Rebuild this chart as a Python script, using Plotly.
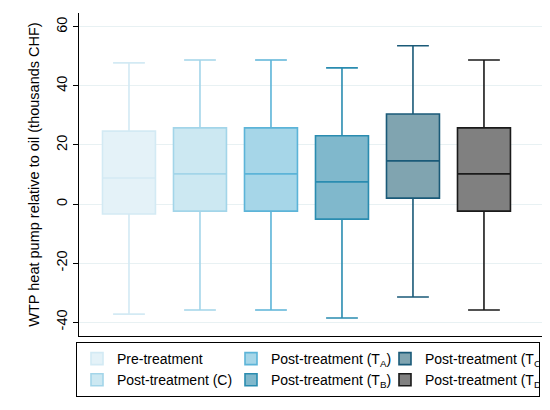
import plotly.graph_objects as go

# Grupos e estatísticas das caixas (milhares de CHF)
grupos = ["Pre-treatment", "Post-treatment (C)", "Post-treatment (T<sub>A</sub>)",
          "Post-treatment (T<sub>B</sub>)", "Post-treatment (T<sub>C</sub>)", "Post-treatment (T<sub>D</sub>)"]
limite_inf = [-37.3, -35.9, -35.9, -38.6, -31.5, -35.9]
q1 = [-3.4, -2.4, -2.4, -5.1, 2.0, -2.4]
mediana = [8.8, 10.2, 10.2, 7.5, 14.6, 10.2]
q3 = [24.7, 25.8, 25.8, 23.1, 30.5, 25.8]
limite_sup = [47.8, 48.8, 48.8, 46.1, 53.6, 48.8]
y_ticks = [-40, -20, 0, 20, 40, 60]
y_tick_labels = ["-40", "-20", "0", "20", "40", "60"]

# Cores (linha / preenchimento)
cores_linha = ["#d3eaf4", "#a3d5e9", "#5cb4d8", "#2a8cb0", "#1a5a78", "#1a1a1a"]
cores_fill = ["#e4f2f8", "#cce8f2", "#a6d6e8", "#80b8cc", "#80a4b0", "#808080"]
# ordem da legenda em colunas (3 colunas x 2 linhas)
rank_legenda = [1, 4, 2, 5, 3, 6]

# a página tem margem de 8px no body -> figura 8px menor
W, H = 542, 402

fig = go.Figure()
for i, g in enumerate(grupos):
    fig.add_trace(go.Box(
        x=[i], name=g,
        lowerfence=[limite_inf[i]], q1=[q1[i]], median=[mediana[i]],
        q3=[q3[i]], upperfence=[limite_sup[i]],
        width=0.746, whiskerwidth=0.6,
        line=dict(color=cores_linha[i], width=1.6),
        fillcolor=cores_fill[i],
        legendrank=rank_legenda[i],
        hoverinfo="skip",
    ))

fig.update_xaxes(
    range=[-0.704, 5.93], showticklabels=False, ticks="",
    showgrid=False, zeroline=False,
    showline=True, linecolor="black", linewidth=1,
)
fig.update_yaxes(
    range=[-44.7, 64.7], tickvals=y_ticks, ticktext=y_tick_labels, tickangle=-90,
    ticks="outside", ticklen=5, tickcolor="black",
    showline=True, linecolor="black", linewidth=1,
    showgrid=True, gridcolor="#e8f1f3", gridwidth=1, zeroline=False,
    title=dict(text="WTP heat pump relative to oil (thousands CHF)", standoff=11,
               font=dict(size=14.5, color="black")),
    tickfont=dict(size=14.5, color="black"),
)

fig.update_layout(
    width=W, height=H,
    margin=dict(l=71, r=0, t=5, b=74, autoexpand=False),
    plot_bgcolor="white", paper_bgcolor="white",
    font=dict(family="Arial, Liberation Sans, sans-serif", color="black", size=14),
    legend=dict(
        orientation="h", xref="container", yref="container",
        x=68 / W, y=1 - 334 / H, xanchor="left", yanchor="top",
        bordercolor="black", borderwidth=1, bgcolor="white",
        entrywidth=109, itemwidth=30, font=dict(size=14),
        traceorder="normal", tracegroupgap=0,
    ),
)

fig.write_html("out.html")
